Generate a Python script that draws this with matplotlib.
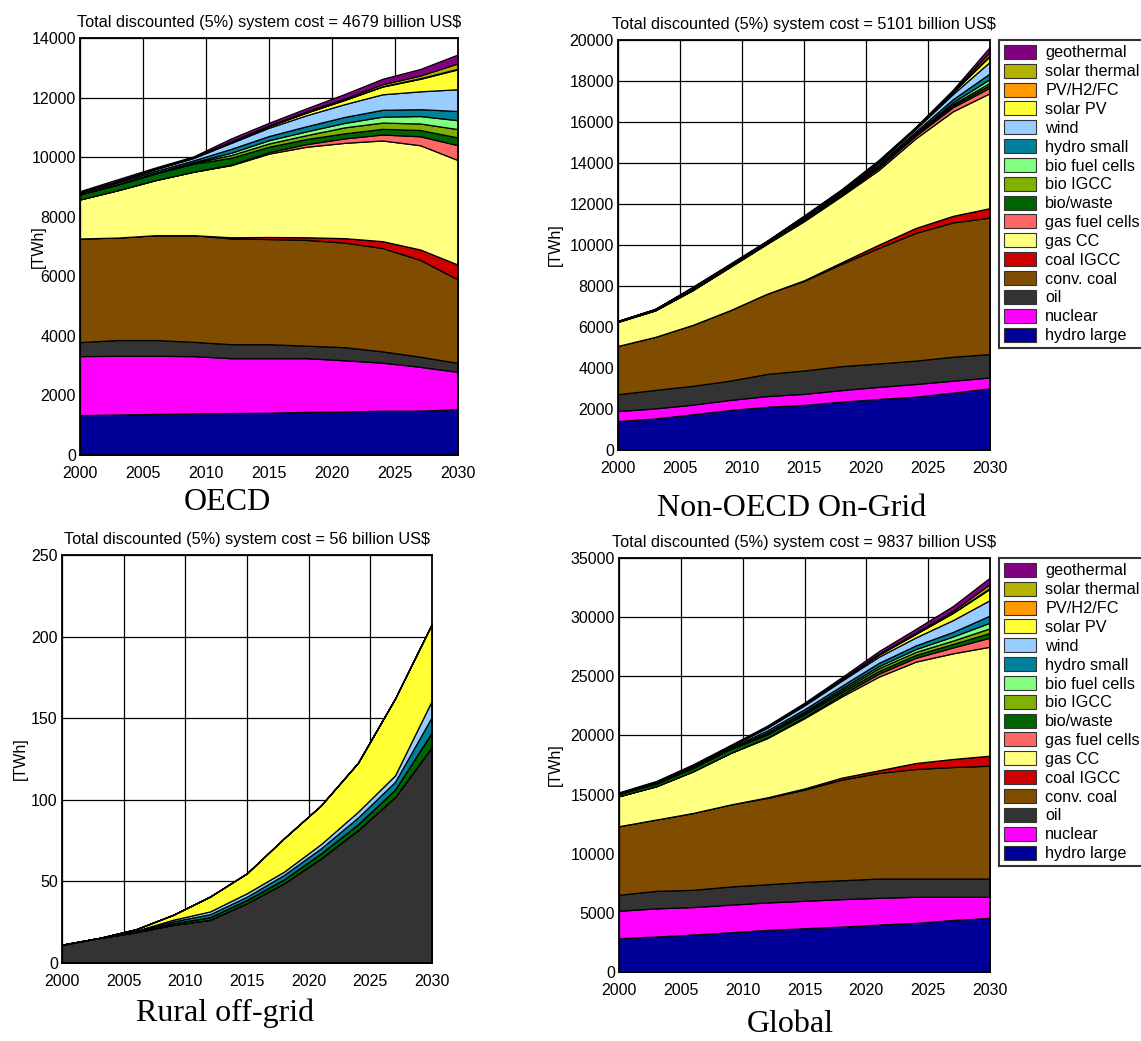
import matplotlib
matplotlib.use("Agg")
import matplotlib.pyplot as plt
from matplotlib.patches import Patch

plt.rcParams['font.family'] = ['Liberation Sans', 'DejaVu Sans']

years = [2000, 2003, 2006, 2009, 2012, 2015, 2018, 2021, 2024, 2027, 2030]

techs = ["hydro large", "nuclear", "oil", "conv. coal", "coal IGCC", "gas CC",
         "gas fuel cells", "bio/waste", "bio IGCC", "bio fuel cells", "hydro small",
         "wind", "solar PV", "PV/H2/FC", "solar thermal", "geothermal"]
colors = ["#000099", "#FF00FF", "#333333", "#7F4C00", "#CC0000", "#FFFF80",
          "#FF6666", "#006400", "#80B000", "#80FF80", "#00809A",
          "#99CCFF", "#FFFF33", "#FF9900", "#B3B300", "#800080"]

# ---- OECD [TWh]
oecd_hydro_large = [1340, 1360, 1380, 1400, 1410, 1420, 1450, 1460, 1490, 1490, 1540]
oecd_nuclear = [1980, 1970, 1950, 1920, 1840, 1830, 1800, 1720, 1610, 1470, 1250]
oecd_oil = [470, 530, 530, 480, 470, 470, 420, 440, 380, 340, 300]
oecd_conv_coal = [3480, 3440, 3520, 3580, 3550, 3530, 3550, 3510, 3470, 3250, 2800]
oecd_coal_igcc = [0, 0, 0, 0, 40, 70, 90, 150, 230, 350, 500]
oecd_gas_cc = [1310, 1590, 1850, 2130, 2420, 2800, 3040, 3200, 3380, 3500, 3510]
oecd_gas_fc = [0, 0, 0, 0, 20, 50, 90, 150, 200, 300, 500]
oecd_bio_waste = [170, 190, 220, 270, 230, 180, 170, 170, 190, 210, 260]
oecd_bio_igcc = [0, 10, 20, 30, 90, 110, 130, 200, 210, 220, 280]
oecd_bio_fc = [0, 5, 10, 20, 80, 110, 130, 150, 200, 250, 300]
oecd_hydro_small = [50, 60, 60, 60, 130, 140, 170, 200, 230, 230, 310]
oecd_wind = [20, 40, 60, 80, 200, 280, 370, 430, 520, 600, 730]
oecd_solar_pv = [0, 5, 10, 20, 40, 50, 90, 140, 260, 420, 670]
oecd_pv_h2_fc = [0, 0, 0, 0, 0, 5, 5, 10, 10, 20, 20]
oecd_solar_thermal = [0, 0, 5, 5, 10, 20, 30, 40, 70, 90, 180]
oecd_geothermal = [40, 60, 40, 30, 100, 90, 110, 150, 180, 220, 300]

# ---- Non-OECD On-Grid [TWh]
non_hydro_large = [1410, 1540, 1740, 1950, 2110, 2200, 2360, 2490, 2600, 2800, 3010]
non_nuclear = [490, 490, 470, 490, 520, 540, 560, 590, 620, 580, 530]
non_oil = [820, 900, 920, 940, 1080, 1140, 1170, 1140, 1140, 1170, 1140]
non_conv_coal = [2360, 2590, 2970, 3430, 3910, 4370, 4980, 5630, 6230, 6550, 6660]
non_coal_igcc = [0, 0, 0, 0, 0, 30, 80, 160, 240, 320, 460]
non_gas_cc = [1170, 1290, 1690, 2110, 2430, 2880, 3230, 3640, 4370, 5100, 5610]
non_gas_fc = [0, 0, 0, 0, 20, 40, 60, 100, 130, 200, 270]
non_bio_waste = [30, 40, 60, 60, 40, 60, 60, 60, 50, 80, 130]
non_bio_igcc = [0, 0, 0, 0, 0, 10, 20, 30, 40, 70, 110]
non_bio_fc = [0, 0, 0, 0, 0, 10, 20, 30, 40, 90, 180]
non_hydro_small = [10, 20, 50, 40, 40, 50, 50, 70, 80, 150, 275]
non_wind = [0, 0, 20, 20, 30, 50, 60, 90, 120, 250, 570]
non_solar_pv = [0, 0, 0, 0, 0, 20, 20, 30, 40, 90, 275]
non_pv_h2_fc = [0, 0, 0, 0, 0, 0, 0, 0, 5, 20, 50]
non_solar_thermal = [0, 0, 0, 0, 0, 10, 10, 20, 20, 40, 160]
non_geothermal = [10, 20, 40, 40, 30, 30, 30, 60, 35, 60, 240]

# ---- Rural off-grid [TWh]
rur_oil = [11.2, 15.3, 18.9, 23.4, 26.5, 36.7, 48.9, 64.2, 81.5, 101.8, 132.5]
rur_bio_waste = [0, 0, 0.3, 1.0, 1.6, 2.0, 2.4, 3.0, 3.6, 4.5, 9.0]
rur_hydro_small = [0, 0, 0.3, 1.1, 1.8, 2.0, 2.7, 3.1, 4.1, 4.7, 9.5]
rur_wind = [0, 0, 0.3, 1.0, 1.7, 2.1, 2.0, 2.6, 3.5, 4.0, 10.0]
rur_solar_pv = [0, 0, 0.9, 3.0, 9.1, 12.2, 20.4, 23.7, 30.0, 47.0, 47.0]
rur_zero = [0] * 11

# ---- Global [TWh]
glo_hydro_large = [2860, 3000, 3170, 3360, 3560, 3700, 3840, 4010, 4150, 4400, 4570]
glo_nuclear = [2320, 2380, 2320, 2330, 2320, 2320, 2320, 2260, 2210, 1960, 1790]
glo_oil = [1350, 1480, 1460, 1540, 1540, 1600, 1600, 1630, 1540, 1540, 1540]
glo_conv_coal = [5800, 6030, 6500, 6930, 7300, 7800, 8500, 8930, 9260, 9430, 9540]
glo_coal_igcc = [0, 0, 0, 0, 50, 100, 170, 220, 510, 680, 850]
glo_gas_cc = [2530, 2810, 3520, 4350, 5010, 5940, 6860, 7920, 8570, 8930, 9210]
glo_gas_fc = [0, 0, 0, 0, 40, 90, 150, 250, 330, 500, 770]
glo_bio_waste = [200, 230, 280, 330, 270, 240, 230, 230, 240, 290, 400]
glo_bio_igcc = [0, 10, 20, 30, 90, 120, 150, 230, 250, 290, 390]
glo_bio_fc = [0, 5, 10, 20, 80, 120, 150, 180, 240, 340, 480]
glo_hydro_small = [60, 80, 110, 100, 170, 190, 220, 270, 310, 390, 600]
glo_wind = [20, 40, 80, 100, 230, 330, 430, 520, 680, 1000, 1310]
glo_solar_pv = [0, 5, 10, 20, 40, 70, 110, 170, 300, 600, 950]
glo_pv_h2_fc = [0, 0, 0, 0, 0, 5, 5, 10, 15, 40, 70]
glo_solar_thermal = [0, 0, 5, 5, 10, 30, 40, 60, 90, 130, 340]
glo_geothermal = [50, 80, 80, 70, 130, 120, 140, 230, 315, 420, 540]

oecd = [oecd_hydro_large, oecd_nuclear, oecd_oil, oecd_conv_coal, oecd_coal_igcc,
        oecd_gas_cc, oecd_gas_fc, oecd_bio_waste, oecd_bio_igcc, oecd_bio_fc,
        oecd_hydro_small, oecd_wind, oecd_solar_pv, oecd_pv_h2_fc,
        oecd_solar_thermal, oecd_geothermal]
non = [non_hydro_large, non_nuclear, non_oil, non_conv_coal, non_coal_igcc,
       non_gas_cc, non_gas_fc, non_bio_waste, non_bio_igcc, non_bio_fc,
       non_hydro_small, non_wind, non_solar_pv, non_pv_h2_fc,
       non_solar_thermal, non_geothermal]
rural = [rur_zero, rur_zero, rur_oil, rur_zero, rur_zero, rur_zero, rur_zero,
         rur_bio_waste, rur_zero, rur_zero, rur_hydro_small, rur_wind,
         rur_solar_pv, rur_zero, rur_zero, rur_zero]
glob = [glo_hydro_large, glo_nuclear, glo_oil, glo_conv_coal, glo_coal_igcc,
        glo_gas_cc, glo_gas_fc, glo_bio_waste, glo_bio_igcc, glo_bio_fc,
        glo_hydro_small, glo_wind, glo_solar_pv, glo_pv_h2_fc,
        glo_solar_thermal, glo_geothermal]

costs = [4679, 5101, 56, 9837]
names = ["OECD", "Non-OECD On-Grid", "Rural off-grid", "Global"]
ymaxes = [14000, 20000, 250, 35000]
ysteps = [2000, 2000, 50, 5000]

W, H = 1141, 1041
fig = plt.figure(figsize=(W / 100, H / 100), dpi=100)

# axes boxes in pixels: left, top, right, bottom
boxes = [(80, 38, 458, 455), (618, 40, 990, 450), (62, 555, 432, 963), (619, 558, 990, 972)]
name_pos = [(227, 503), (792, 508), (225, 1013), (790, 1025)]
ylab_x = [38, 555, 20, 555]
datasets = [oecd, non, rural, glob]

for i in range(4):
    l, t, r, b = boxes[i]
    ax = fig.add_axes([l / W, (H - b) / H, (r - l) / W, (b - t) / H])
    ax.stackplot(years, *datasets[i], colors=colors, edgecolor="black", linewidth=0.9)
    ax.set_xlim(2000, 2030)
    ax.set_ylim(0, ymaxes[i])
    ax.set_xticks(range(2000, 2031, 5))
    ax.set_yticks(range(0, ymaxes[i] + 1, ysteps[i]))
    ax.grid(True, color="black", linewidth=0.9)
    ax.set_axisbelow(True)
    ax.tick_params(direction="in", length=0, labelsize=11.5)
    ax.tick_params(axis="x", pad=8)
    ax.tick_params(axis="y", pad=3)
    for s in ax.spines.values():
        s.set_linewidth(1.3)
        s.set_zorder(5)
    ax.set_title("Total discounted (5%%) system cost = %d billion US$" % costs[i],
                 fontsize=11.7, pad=8)
    fig.text(ylab_x[i] / W, 1 - ((t + b) / 2) / H, "[TWh]", rotation=90,
             ha="center", va="center", fontsize=11.5)
    fig.text(name_pos[i][0] / W, 1 - name_pos[i][1] / H, names[i],
             family="Liberation Serif", fontsize=23, ha="center", va="center")
    if i in (1, 3):
        handles = [Patch(facecolor=colors[k], edgecolor="#333333", linewidth=0.8)
                   for k in range(len(techs) - 1, -1, -1)]
        labels = [techs[k] for k in range(len(techs) - 1, -1, -1)]
        leg = fig.legend(handles, labels, loc="upper left",
                         bbox_to_anchor=(999 / W, 1 - t / H),
                         fontsize=11.7, frameon=True, fancybox=False,
                         borderpad=0.3, labelspacing=0.2, handlelength=2.0,
                         handleheight=0.95, handletextpad=0.55, borderaxespad=0)
        leg.get_frame().set_edgecolor("black")
        leg.get_frame().set_linewidth(1.5)

fig.savefig("out.png", dpi=100)
